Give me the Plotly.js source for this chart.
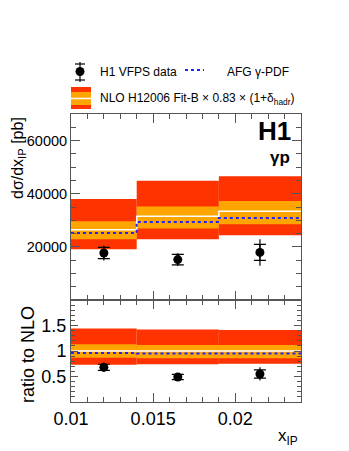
<!DOCTYPE html>
<html>
<head>
<meta charset="utf-8">
<script src="https://cdn.plot.ly/plotly-3.0.1.min.js"></script>
<style>
  html, body { margin: 0; padding: 0; background: #fff; }
  #chart { width: 349px; height: 451px; }
</style>
</head>
<body>
<div id="chart"></div>
<script>
(function () {
  "use strict";

  // --- data ---
  const binEdges = [0.01, 0.014, 0.019, 0.024];
  const xData = [0.012, 0.0165, 0.0215];

  // upper pad: cross section [pb]
  const xsec = [17700, 15200, 17900];
  const xsecStat = [2100, 2000, 3000];
  const xsecTot = [2800, 2400, 5000];
  const nloCentral = [26400, 31500, 33400];
  const nloInnerLo = [22900, 26900, 28500];
  const nloInnerHi = [29600, 35200, 37300];
  const nloOuterLo = [19100, 22900, 24400];
  const nloOuterHi = [38000, 44900, 46600];
  const afg = [25200, 29400, 30900];

  // lower pad: ratio to NLO
  const ratio = [0.68, 0.49, 0.55];
  const ratioStat = [0.06, 0.05, 0.08];
  const ratioTot = [0.09, 0.06, 0.13];
  const ratioCentral = [1, 1, 1];
  const ratioInnerLo = [0.87, 0.86, 0.86];
  const ratioInnerHi = [1.13, 1.12, 1.12];
  const ratioOuterLo = [0.73, 0.74, 0.75];
  const ratioOuterHi = [1.44, 1.42, 1.41];
  const ratioAfg = [0.96, 0.95, 0.95];

  const RED = "#ff3300";
  const ORANGE = "#ffa500";
  const BLUE = "#2222ff";
  const FONT = "Liberation Sans, Arial, sans-serif";
  const FRAME = "#555";

  // plot area in pixels, used to place the hand-drawn legend
  const L = 71, R = 301, T = 114, B = 402;
  const px = x => (x - L) / (R - L);
  const py = y => (B - y) / (B - T);

  function bandTraces(lo, hi, color, xa, ya) {
    const out = [];
    for (let i = 0; i < lo.length; i++) {
      const e0 = binEdges[i], e1 = binEdges[i + 1];
      out.push({
        x: [e0, e1, e1, e0, e0],
        y: [lo[i], lo[i], hi[i], hi[i], lo[i]],
        xaxis: xa, yaxis: ya,
        mode: "lines", fill: "toself", fillcolor: color,
        line: { width: 0 }, hoverinfo: "skip", showlegend: false
      });
    }
    return out;
  }

  function stepTrace(vals, color, dash, width, xa, ya) {
    return {
      x: binEdges,
      y: vals.concat([vals[vals.length - 1]]),
      xaxis: xa, yaxis: ya,
      mode: "lines",
      line: { shape: "hv", color: color, dash: dash, width: width },
      hoverinfo: "skip", showlegend: false
    };
  }

  function dataTraces(y, stat, tot, xa, ya) {
    return [
      {
        x: xData, y: y, xaxis: xa, yaxis: ya, mode: "markers",
        marker: { size: 1, color: "rgba(0,0,0,0)" },
        error_y: { type: "data", array: tot, width: 0, thickness: 1.2, color: "#000" },
        showlegend: false
      },
      {
        x: xData, y: y, xaxis: xa, yaxis: ya, mode: "markers",
        marker: { size: 9, color: "#000" },
        error_y: { type: "data", array: stat, width: 6, thickness: 1.2, color: "#000" },
        showlegend: false
      }
    ];
  }

  const traces = []
    .concat(bandTraces(nloOuterLo, nloOuterHi, RED, "x2", "y2"))
    .concat(bandTraces(nloInnerLo, nloInnerHi, ORANGE, "x2", "y2"))
    .concat([stepTrace(nloCentral, "#ffffff", "solid", 1.5, "x2", "y2"),
             stepTrace(afg, BLUE, "dot", 2, "x2", "y2")])
    .concat(dataTraces(xsec, xsecStat, xsecTot, "x2", "y2"))
    .concat(bandTraces(ratioOuterLo, ratioOuterHi, RED, "x", "y"))
    .concat(bandTraces(ratioInnerLo, ratioInnerHi, ORANGE, "x", "y"))
    .concat([stepTrace(ratioCentral, "#ffffff", "solid", 1.5, "x", "y"),
             stepTrace(ratioAfg, BLUE, "dot", 2, "x", "y")])
    .concat(dataTraces(ratio, ratioStat, ratioTot, "x", "y"));

  const axisCommon = {
    showline: true, linecolor: FRAME, linewidth: 1, mirror: "allticks",
    ticks: "inside", ticklen: 9, tickcolor: FRAME, tickwidth: 1,
    showgrid: false, zeroline: false, fixedrange: true
  };

  const lowerFrac = (B - 300) / (B - T);

  const shapes = [
    // legend: data point with error bar
    { type: "line", xref: "paper", yref: "paper", x0: px(80), x1: px(80), y0: py(62), y1: py(82), line: { color: "#000", width: 1.2 } },
    { type: "line", xref: "paper", yref: "paper", x0: px(75), x1: px(85), y0: py(64), y1: py(64), line: { color: "#000", width: 1.2 } },
    { type: "line", xref: "paper", yref: "paper", x0: px(75), x1: px(85), y0: py(80), y1: py(80), line: { color: "#000", width: 1.2 } },
    { type: "circle", xref: "paper", yref: "paper", x0: px(75.5), x1: px(84.5), y0: py(67), y1: py(76), fillcolor: "#000", line: { width: 0 } },
    // legend: AFG dotted line
    { type: "line", xref: "paper", yref: "paper", x0: px(185), x1: px(204), y0: py(70), y1: py(70), line: { color: BLUE, width: 2, dash: "dot" } },
    // legend: NLO band swatch
    { type: "rect", xref: "paper", yref: "paper", x0: px(71), x1: px(91), y0: py(109), y1: py(87), fillcolor: RED, line: { width: 0 } },
    { type: "rect", xref: "paper", yref: "paper", x0: px(71), x1: px(91), y0: py(105), y1: py(92), fillcolor: ORANGE, line: { width: 0 } },
    { type: "line", xref: "paper", yref: "paper", x0: px(71), x1: px(91), y0: py(98.5), y1: py(98.5), line: { color: "#fff", width: 1.5 } }
  ];

  const annotations = [
    { text: "H1 VFPS data", xref: "paper", yref: "paper", x: px(98), y: py(71.5), xanchor: "left", yanchor: "middle", showarrow: false, font: { family: FONT, size: 12, color: "#000" } },
    { text: "AFG γ-PDF", xref: "paper", yref: "paper", x: px(225), y: py(71.5), xanchor: "left", yanchor: "middle", showarrow: false, font: { family: FONT, size: 12, color: "#000" } },
    { text: "NLO H12006 Fit-B × 0.83 × (1+δ<sub>hadr</sub>)", xref: "paper", yref: "paper", x: px(98), y: py(99), xanchor: "left", yanchor: "middle", showarrow: false, font: { family: FONT, size: 12, color: "#000" } },
    { text: "<b>H1</b>", xref: "paper", yref: "paper", x: px(293), y: py(131), xanchor: "right", yanchor: "middle", showarrow: false, font: { family: FONT, size: 26, color: "#000" } },
    { text: "<b>γp</b>", xref: "paper", yref: "paper", x: px(292), y: py(157), xanchor: "right", yanchor: "middle", showarrow: false, font: { family: FONT, size: 17, color: "#000" } },
    { text: "dσ/dx<sub>IP</sub> [pb]", xref: "paper", yref: "paper", x: px(18), y: py(158), xanchor: "center", yanchor: "middle", textangle: -90, showarrow: false, font: { family: FONT, size: 16, color: "#000" } },
    { text: "ratio to NLO", xref: "paper", yref: "paper", x: px(28), y: py(355), xanchor: "center", yanchor: "middle", textangle: -90, showarrow: false, font: { family: FONT, size: 18, color: "#000" } },
    { text: "x<sub>IP</sub>", xref: "paper", yref: "paper", x: px(300), y: py(437), xanchor: "right", yanchor: "middle", showarrow: false, font: { family: FONT, size: 17, color: "#000" } }
  ];

  const layout = {
    width: 349, height: 451,
    margin: { l: L, r: 349 - R, t: T, b: 451 - B, pad: 0 },
    paper_bgcolor: "#fff", plot_bgcolor: "#fff",
    showlegend: false,
    font: { family: FONT, color: "#000" },
    xaxis: Object.assign({}, axisCommon, {
      domain: [0, 1], anchor: "y", range: [0.01, 0.024],
      tickvals: [0.01, 0.015, 0.02], ticktext: ["0.01", "0.015", "0.02"],
      tickfont: { family: FONT, size: 18, color: "#000" },
      minor: { ticks: "inside", ticklen: 5, tickcolor: FRAME, dtick: 0.001, tick0: 0.01 }
    }),
    xaxis2: Object.assign({}, axisCommon, {
      domain: [0, 1], anchor: "y2", matches: "x", showticklabels: false,
      tickvals: [0.01, 0.015, 0.02],
      minor: { ticks: "inside", ticklen: 5, tickcolor: FRAME, dtick: 0.001, tick0: 0.01 }
    }),
    yaxis: Object.assign({}, axisCommon, {
      domain: [0, lowerFrac], anchor: "x", range: [0, 2],
      tickvals: [0.5, 1, 1.5], ticktext: ["0.5", "1", "1.5"],
      tickfont: { family: FONT, size: 18, color: "#000" },
      ticklen: 7,
      minor: { ticks: "inside", ticklen: 4, tickcolor: FRAME, dtick: 0.1, tick0: 0 }
    }),
    yaxis2: Object.assign({}, axisCommon, {
      domain: [lowerFrac, 1], anchor: "x2", range: [0, 70000],
      tickvals: [20000, 40000, 60000], ticktext: ["20000", "40000", "60000"],
      tickfont: { family: FONT, size: 14.5, color: "#000" },
      minor: { ticks: "inside", ticklen: 5, tickcolor: FRAME, dtick: 5000, tick0: 0 }
    }),
    shapes: shapes,
    annotations: annotations
  };

  Plotly.newPlot("chart", traces, layout, { displayModeBar: false, staticPlot: true });
})();
</script>
</body>
</html>
